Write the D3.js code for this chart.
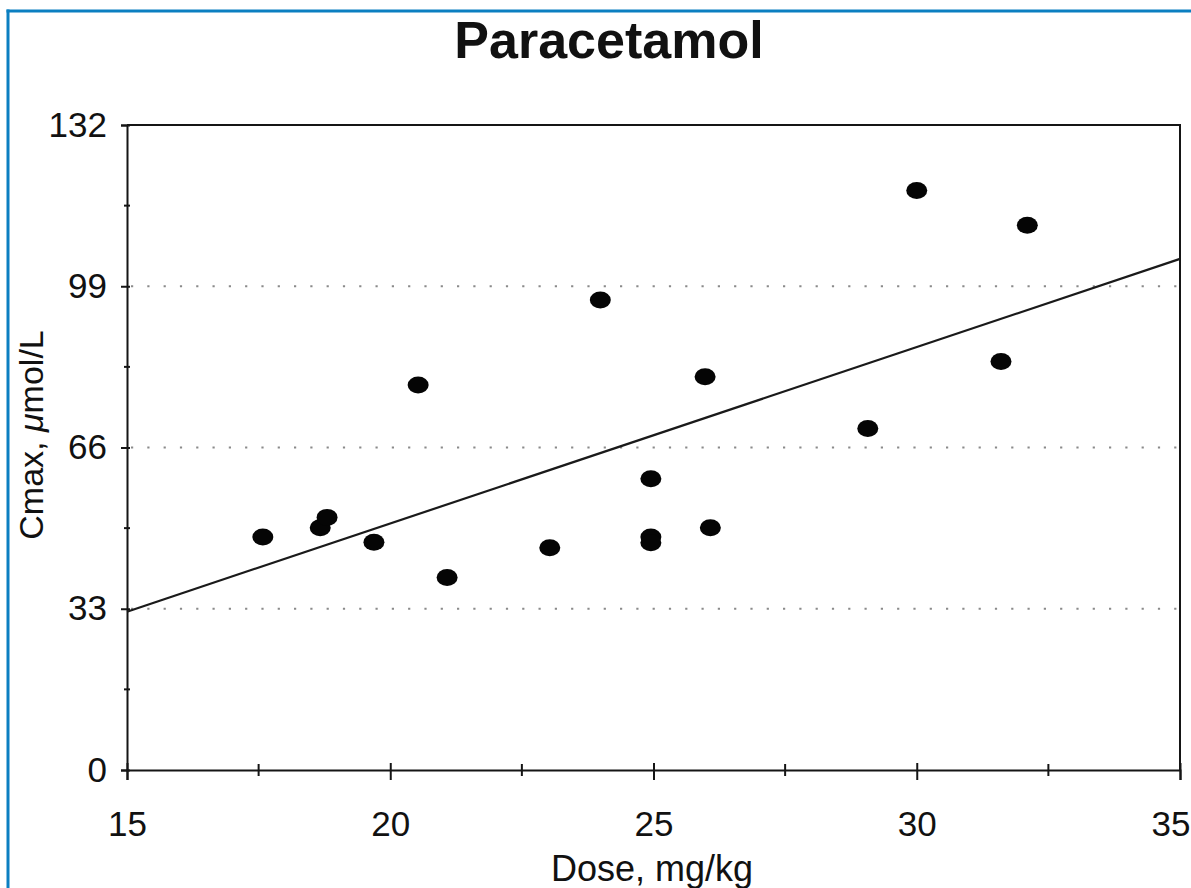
<!DOCTYPE html>
<html>
<head>
<meta charset="utf-8">
<script src="https://cdn.jsdelivr.net/npm/d3@7/dist/d3.min.js"></script>
<style>
  html, body { margin: 0; padding: 0; background: #fff; }
  svg { display: block; }
  text { font-family: "Liberation Sans", Arial, Helvetica, sans-serif; fill: #111; }
</style>
</head>
<body>
<svg id="chart" width="1191" height="888"></svg>
<script>
// ---- data ----
const doseValues = [17.58, 18.67, 18.80, 19.69, 20.53, 21.08, 23.03, 23.99, 24.95, 24.95, 24.95, 25.98, 26.08, 29.07, 30.00, 31.60, 32.10];
const cmaxValues = [47.7, 49.6, 51.7, 46.6, 78.8, 39.4, 45.5, 96.2, 59.6, 47.7, 46.5, 80.5, 49.6, 69.9, 118.6, 83.6, 111.5];
const fitDose = [15, 35];
const fitCmax = [32.4, 104.6];
const xTicks = [15, 20, 25, 30, 35];
const xMinorTicks = [17.5, 22.5, 27.5, 32.5];
const yTicks = [0, 33, 66, 99, 132];
const yMinorTicks = [16.5, 49.5, 82.5, 115.5];
const gridValues = [33, 66, 99];
const title = "Paracetamol";
const xLabel = "Dose, mg/kg";

const svg = d3.select("#chart");
const pLeft = 127, pRight = 1180, pTop = 125, pBottom = 770;

const x = d3.scaleLinear().domain([15, 35]).range([pLeft, pRight]);
const y = d3.scaleLinear().domain([0, 132]).range([pBottom, pTop]);

// blue frame
svg.append("line").attr("x1", 6.5).attr("x2", 1191).attr("y1", 11).attr("y2", 11)
  .attr("stroke", "#0b7fc1").attr("stroke-width", 3);
svg.append("line").attr("x1", 8).attr("x2", 8).attr("y1", 9.5).attr("y2", 888)
  .attr("stroke", "#0b7fc1").attr("stroke-width", 3);

// title
svg.append("text").attr("x", 609).attr("y", 58).attr("text-anchor", "middle")
  .attr("font-size", 52).attr("font-weight", "bold").text(title);

// dotted gridlines
svg.append("g").selectAll("line").data(gridValues).join("line")
  .attr("x1", pLeft + 4).attr("x2", pRight)
  .attr("y1", d => y(d)).attr("y2", d => y(d))
  .attr("stroke", "#8a8a8a").attr("stroke-width", 2.2)
  .attr("stroke-dasharray", "2.2,14.1");

// plot frame (top and right)
svg.append("path")
  .attr("d", `M${pLeft},${pTop}H${pRight}V${pBottom}`)
  .attr("fill", "none").attr("stroke", "#151515").attr("stroke-width", 2);

// y axis
const yAxis = d3.axisLeft(y).tickValues(yTicks).tickSize(6).tickPadding(14).tickFormat(d3.format("d"));
const gy = svg.append("g").attr("transform", `translate(${pLeft},0)`).call(yAxis);
gy.select(".domain").attr("stroke", "#151515").attr("stroke-width", 2);
gy.selectAll(".tick line").attr("stroke", "#151515").attr("stroke-width", 2).attr("x2", -6).attr("x1", 3);
gy.selectAll(".tick text").attr("font-size", 35).attr("fill", "#111")
  .attr("font-family", "Liberation Sans, Arial, sans-serif");
svg.append("g").selectAll("line").data(yMinorTicks).join("line")
  .attr("x1", pLeft - 3).attr("x2", pLeft + 3)
  .attr("y1", d => y(d)).attr("y2", d => y(d))
  .attr("stroke", "#151515").attr("stroke-width", 2);

// x axis
const xAxis = d3.axisBottom(x).tickValues(xTicks).tickSize(10).tickPadding(31).tickFormat(d3.format("d"));
const gx = svg.append("g").attr("transform", `translate(0,${pBottom})`).call(xAxis);
gx.select(".domain").attr("stroke", "#151515").attr("stroke-width", 2);
gx.selectAll(".tick line").attr("stroke", "#151515").attr("stroke-width", 2).attr("y1", -7).attr("y2", 10);
gx.selectAll(".tick text").attr("font-size", 35).attr("fill", "#111")
  .attr("font-family", "Liberation Sans, Arial, sans-serif")
  .attr("text-anchor", d => d === 35 ? "end" : "middle")
  .attr("x", d => d === 35 ? 1190 - x(d) : 0);
svg.append("g").selectAll("line").data(xMinorTicks).join("line")
  .attr("x1", d => x(d)).attr("x2", d => x(d))
  .attr("y1", pBottom - 6).attr("y2", pBottom + 6)
  .attr("stroke", "#151515").attr("stroke-width", 2);

// axis labels
svg.append("text").attr("x", 652).attr("y", 881).attr("text-anchor", "middle")
  .attr("font-size", 36).text(xLabel);
const yl = svg.append("text").attr("transform", "translate(43,435) rotate(-90)")
  .attr("text-anchor", "middle").attr("font-size", 34);
yl.append("tspan").text("Cmax, ");
yl.append("tspan").attr("font-style", "italic").text("\u03BC");
yl.append("tspan").text("mol/L");

// regression line
const fit = fitDose.map((d, i) => [d, fitCmax[i]]);
svg.append("path").datum(fit)
  .attr("d", d3.line().x(d => x(d[0])).y(d => y(d[1])))
  .attr("fill", "none").attr("stroke", "#1a1a1a").attr("stroke-width", 2.2);

// points
const pts = doseValues.map((d, i) => [d, cmaxValues[i]]);
svg.append("g").selectAll("ellipse").data(pts).join("ellipse")
  .attr("cx", d => x(d[0])).attr("cy", d => y(d[1]))
  .attr("rx", 10.5).attr("ry", 8.5).attr("fill", "#050505");
</script>
</body>
</html>
